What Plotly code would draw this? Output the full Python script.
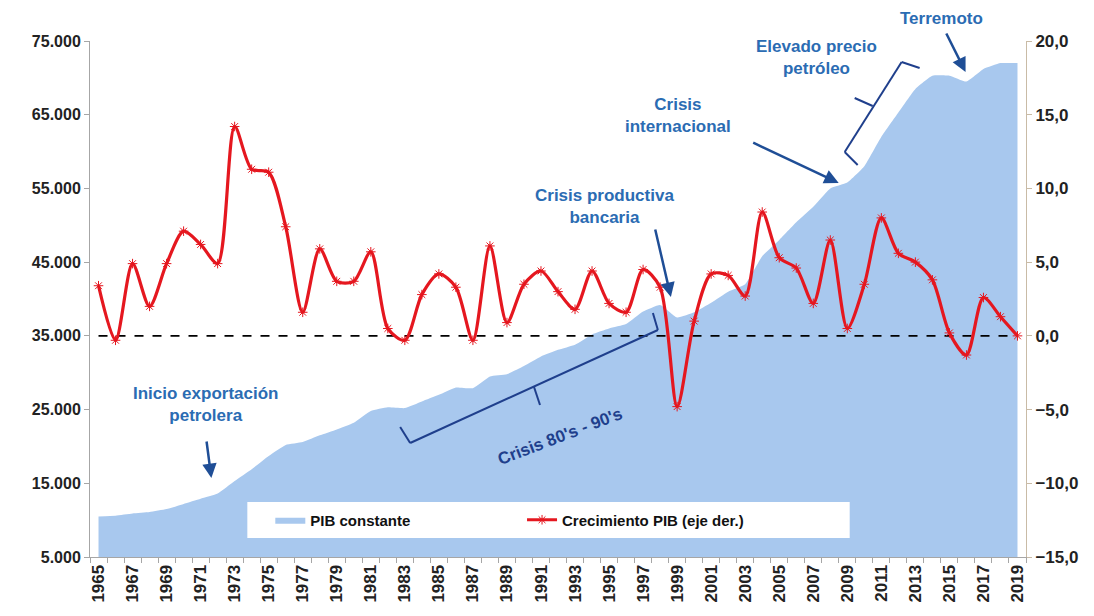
import plotly.graph_objects as go

# ---------------- data ----------------
years = list(range(1965, 2020))
pib_constante = [10500, 10600, 10900, 11100, 11500, 12200, 12900, 13600, 15300, 16900,
                 18700, 20200, 20600, 21500, 22300, 23200, 24800, 25300, 25200, 26100,
                 27000, 28000, 27900, 29500, 29800, 30900, 32200, 33100, 33800, 35200,
                 36000, 36600, 38300, 39200, 37500, 38200, 39500, 41000, 42000, 45800,
                 48000, 50400, 52500, 55000, 55800, 58000, 62000, 65300, 68500, 70300,
                 70300, 69500, 71200, 72000, 72000]
crecimiento = [3.4, -0.3, 4.9, 2.0, 4.9, 7.1, 6.2, 4.9, 14.2, 11.3,
               11.1, 7.4, 1.6, 5.9, 3.7, 3.7, 5.7, 0.5, -0.3, 2.8,
               4.2, 3.3, -0.3, 6.1, 0.9, 3.5, 4.4, 3.0, 1.8, 4.4,
               2.2, 1.6, 4.5, 3.3, -4.8, 1.0, 4.2, 4.1, 2.7, 8.4,
               5.3, 4.6, 2.2, 6.5, 0.5, 3.5, 8.0, 5.6, 5.0, 3.8,
               0.2, -1.3, 2.6, 1.3, 0.0]
zero_line = [0.0] * len(years)
left_ticks = [5000, 15000, 25000, 35000, 45000, 55000, 65000, 75000]
right_ticks = [-15, -10, -5, 0, 5, 10, 15, 20]
year_labels = [y for y in years if (y - 1965) % 2 == 0]

# ---------------- layout geometry (page has an 8px body margin) ----------------
OFF = 8
W, H = 1094 - OFF, 616 - OFF
PL, PR, PT, PB = 89.5, 1026.5, 41, 557          # plot box in window pixels
L, T = PL - OFF, PT - OFF
R = W + OFF - PR
B = H + OFF - PB
PW, PH = PR - PL, PB - PT
X0, X1 = 1964.5, 2019.5
Y0, Y1 = 5000, 75000


def px_(px):
    return (px - PL) / PW


def py_(py):
    return (PB - py) / PH


FONT = "Liberation Sans, Arial"
TXT_BLUE = "#2B6CB3"
NAVY = "#1F3F8C"
ARROW = "#1F4E96"

fig = go.Figure()

fig.add_trace(go.Scatter(
    x=years, y=pib_constante, name="PIB constante",
    mode="lines", line=dict(width=0, color="#A8C8EE", shape="spline", smoothing=0.4),
    fill="tozeroy", fillcolor="#A8C8EE", legend="legend"))

fig.add_trace(go.Scatter(
    x=years, y=zero_line, yaxis="y2", mode="lines", showlegend=False,
    line=dict(color="black", width=1.6, dash="dash")))

fig.add_trace(go.Scatter(
    x=years, y=crecimiento, yaxis="y2", name="Crecimiento PIB (eje der.)",
    mode="lines+markers",
    line=dict(color="#E5171F", width=3.2, shape="spline", smoothing=0.8),
    marker=dict(symbol="asterisk-open", size=8, line=dict(color="#FF5A5A", width=1)),
    legend="legend2"))

annotations = []


def text(px, py, s, color=TXT_BLUE, size=17, angle=0):
    annotations.append(dict(x=px_(px), y=py_(py), xref="paper", yref="paper", text=s,
                            xanchor="center", yanchor="middle",
                            showarrow=False, textangle=angle,
                            font=dict(family=FONT, size=size, color=color, weight="bold"),
                            align="center"))


def arrow(tx, ty, hx, hy):
    annotations.append(dict(x=px_(hx), y=py_(hy), xref="paper", yref="paper", text="",
                            showarrow=True, ax=tx - hx, ay=ty - hy,
                            arrowhead=2, arrowsize=1.15, arrowwidth=2.5, arrowcolor=ARROW))


text(205, 405, "Inicio exportación<br>petrolera")
arrow(206, 440, 211, 478)
text(605, 206, "Crisis productiva<br>bancaria")
arrow(655, 228, 671, 297)
text(678, 115, "Crisis<br>internacional")
arrow(752, 142, 839, 183)
text(817, 58, "Elevado precio<br>petróleo")
text(942, 19, "Terremoto")
arrow(946, 32, 966, 72)
text(560, 436, "Crisis 80's - 90's", color=NAVY, size=17, angle=-21)

shapes = []


def seg(p, q, color=NAVY, width=2):
    shapes.append(dict(type="line", xref="paper", yref="paper",
                       x0=px_(p[0]), y0=py_(p[1]), x1=px_(q[0]), y1=py_(q[1]),
                       line=dict(color=color, width=width)))


# bracket: Crisis 80's-90's
seg((400, 427), (410, 443))
seg((410, 443), (658, 330))
seg((658, 330), (653, 313))
seg((534, 387), (540, 405))
# bracket: Elevado precio petróleo
seg((920, 68), (902, 62))
seg((902, 62), (845, 152))
seg((845, 152), (858, 165))
seg((873, 106), (855, 98))

# white legend box
shapes.append(dict(type="rect", xref="paper", yref="paper",
                   x0=px_(247), x1=px_(850), y0=py_(538), y1=py_(502),
                   fillcolor="white", line=dict(width=0), layer="above"))

LEG_FONT = dict(family=FONT, size=15, color="#111111", weight="bold")

fig.update_layout(
    width=W, height=H,
    margin=dict(l=L, r=R, t=T, b=B, pad=0),
    paper_bgcolor="white", plot_bgcolor="white",
    separators=",.",
    font=dict(family=FONT, size=14, color="#222222"),
    annotations=annotations, shapes=shapes,
    legend=dict(orientation="h", x=px_(270), y=py_(520),
                xanchor="left", yanchor="middle", bgcolor="rgba(0,0,0,0)", font=LEG_FONT),
    legend2=dict(orientation="h", x=px_(522), y=py_(520),
                 xanchor="left", yanchor="middle", bgcolor="rgba(0,0,0,0)", font=LEG_FONT),
    xaxis=dict(range=[X0, X1], tickmode="array", tickvals=year_labels,
               ticktext=[str(y) for y in year_labels], tickangle=-90,
               ticks="", showgrid=False, zeroline=False,
               showline=True, linecolor="#A6A6A6", linewidth=1,
               tickfont=dict(family=FONT, size=17, color="#222222", weight="bold"),
               minor=dict(tickmode="linear", tick0=1964.5, dtick=1, ticks="outside",
                          ticklen=5, tickcolor="#A6A6A6", showgrid=False)),
    yaxis=dict(range=[Y0, Y1], tickmode="array", tickvals=left_ticks,
               tickformat=",d", ticks="outside", ticklen=5, tickcolor="#A6A6A6",
               showgrid=False, zeroline=False, showline=True,
               linecolor="#A6A6A6", linewidth=1,
               tickfont=dict(family=FONT, size=16, color="#222222", weight="bold")),
    yaxis2=dict(range=[-15, 20], overlaying="y", side="right",
                tickmode="array", tickvals=right_ticks, tickformat=".1f",
                ticks="outside", ticklen=5, tickcolor="#C9BBA6",
                showgrid=False, zeroline=False, showline=True,
                linecolor="#C9BBA6", linewidth=1,
                tickfont=dict(family=FONT, size=17, color="#222222", weight="bold")),
)

fig.write_html("out.html")
